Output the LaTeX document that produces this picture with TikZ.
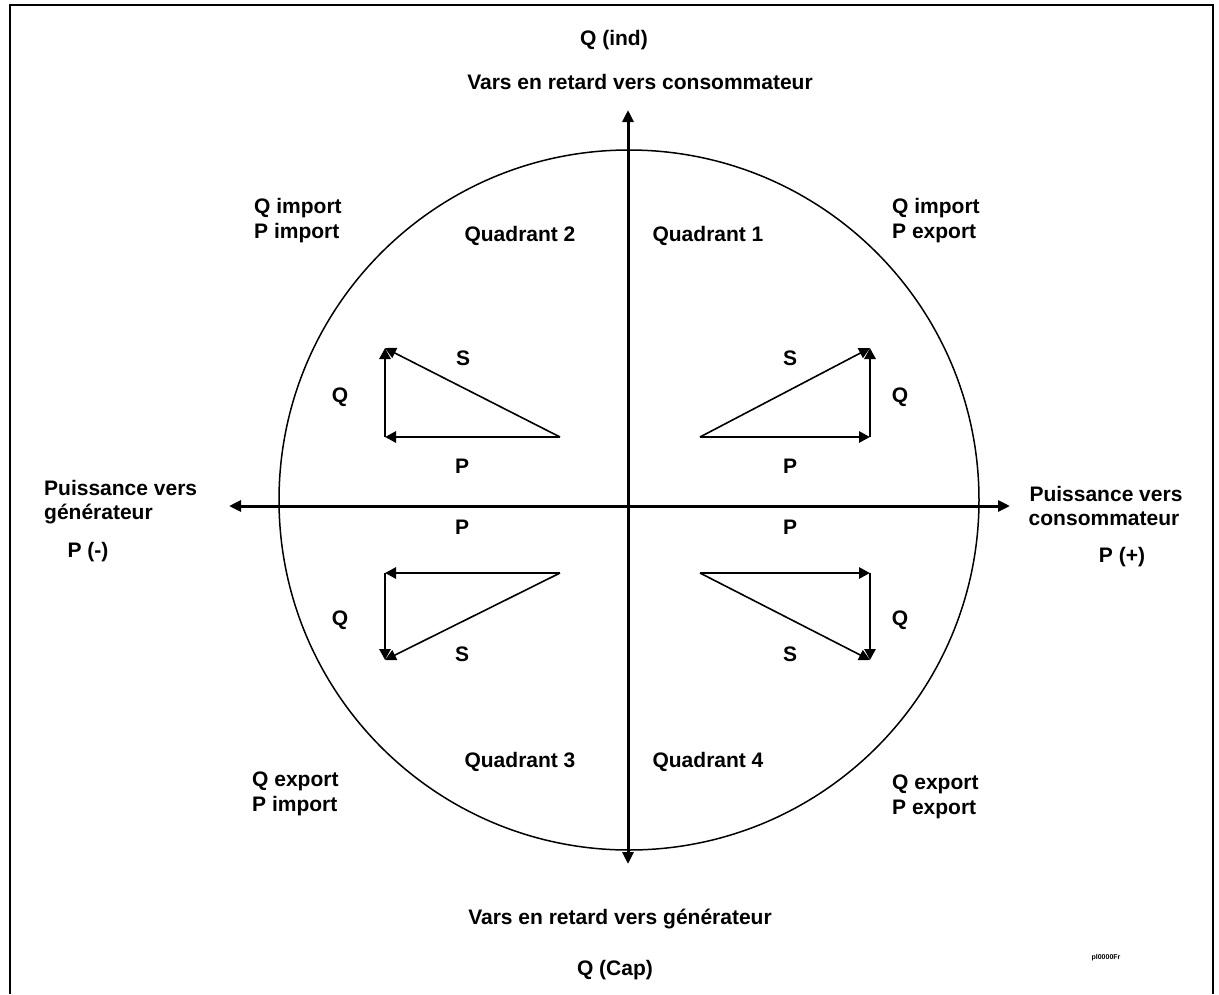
\documentclass[tikz,border=0pt]{standalone}
\usepackage{fontspec}
\setmainfont{Liberation Sans}
\usetikzlibrary{arrows.meta}
\begin{document}
\begin{tikzpicture}[x=1pt,y=-1pt,
  lbl/.style={font=\fontsize{21}{25}\selectfont\bfseries, inner sep=0pt},
  lblL/.style={lbl, anchor=west, align=left},
  axis/.style={line width=3pt, -{Triangle[length=12pt,width=11pt]}},
  vec/.style={line width=2.8pt, -{Triangle[length=11pt,width=11pt]}},
  svec/.style={line width=1.6pt, -{Triangle[length=11pt,width=11pt]}}]
\useasboundingbox (0,0) rectangle (1219,994);
\draw[line width=1.5pt] (10,994) -- (10,5) -- (1213,5) -- (1213,994);
% circle
\node[circle, draw, line width=1.5pt, minimum size=700pt, inner sep=0pt] (circ) at (629,500) {};
% axes
\coordinate (O) at (628,506);
\coordinate (top) at (628,110);
\coordinate (bot) at (628,864);
\coordinate (left) at (229,506);
\coordinate (right) at (1010,506);
\draw[axis] (O) -- (top);
\draw[axis] (O) -- (bot);
\draw[axis] (O) -- (left);
\draw[axis] (O) -- (right);
% quadrant 1
\coordinate (a1) at (700,437); \coordinate (b1) at (870,437); \coordinate (c1) at (870,348);
\draw[vec] (a1) -- (b1);
\draw[vec] (b1) -- (c1);
\draw[svec] (a1) -- (c1);
% quadrant 2
\coordinate (a2) at (560,437); \coordinate (b2) at (385,437); \coordinate (c2) at (385,348);
\draw[vec] (a2) -- (b2);
\draw[vec] (b2) -- (c2);
\draw[svec] (a2) -- (c2);
% quadrant 3
\coordinate (a3) at (560,573); \coordinate (b3) at (385,573); \coordinate (c3) at (385,660);
\draw[vec] (a3) -- (b3);
\draw[vec] (b3) -- (c3);
\draw[svec] (a3) -- (c3);
% quadrant 4
\coordinate (a4) at (700,573); \coordinate (b4) at (870,573); \coordinate (c4) at (870,660);
\draw[vec] (a4) -- (b4);
\draw[vec] (b4) -- (c4);
\draw[svec] (a4) -- (c4);
% triangle labels
\node[lbl] (s1) at (790,358) {S};
\node[lbl] (q1) at (900,397) {Q};
\node[lbl] (p1) at (790,466) {P};
\node[lbl] (s2) at (463,358) {S};
\node[lbl] (q2) at (340,397) {Q};
\node[lbl] (p2) at (462,466) {P};
\node[lbl] (p3) at (462,527) {P};
\node[lbl] (q3) at (340,620) {Q};
\node[lbl] (s3) at (462,654) {S};
\node[lbl] (p4) at (790,527) {P};
\node[lbl] (q4) at (900,620) {Q};
\node[lbl] (s4) at (790,654) {S};
% quadrant names
\node[lbl] (n2) at (520,236) {Quadrant 2};
\node[lbl] (n1) at (708,236) {Quadrant 1};
\node[lbl] (n3) at (520,762) {Quadrant 3};
\node[lbl] (n4) at (708,762) {Quadrant 4};
% corner labels
\node[lblL] (tl) at (254,221) {Q import\\P import};
\node[lblL] (tr) at (892,221) {Q import\\P export};
\node[lblL] (bl) at (252,794) {Q export\\P import};
\node[lblL] (br) at (892,797) {Q export\\P export};
% axis labels
\node[lbl] (qind) at (614,40) {Q (ind)};
\node[lbl] (toptxt) at (640,82) {Vars en retard vers consommateur};
\node[lbl] (bottxt) at (620,919) {Vars en retard vers générateur};
\node[lbl] (qcap) at (615,970) {Q (Cap)};
\node[lblL] (lt1) at (44,488) {Puissance vers};
\node[lblL] (lt2) at (44,514) {générateur};
\node[lbl] (pm) at (88,552) {P (-)};
\node[lbl] (rt1) at (1106,494) {Puissance vers};
\node[lbl] (rt2) at (1104,519) {consommateur};
\node[lbl] (pp) at (1122,557) {P (+)};
\node[font=\fontsize{7}{8}\selectfont\bfseries, inner sep=0pt] (ref) at (1106,958) {pl0000Fr};
\end{tikzpicture}
\end{document}
